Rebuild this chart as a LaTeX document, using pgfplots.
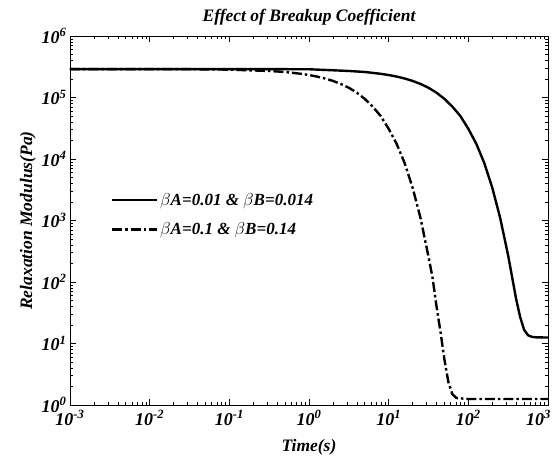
\documentclass[border=0pt]{standalone}
\usepackage{pgfplots}
\pgfplotsset{compat=1.18}
\usepackage{fontspec}
\setmainfont{Liberation Serif}
\begin{document}
\begin{tikzpicture}
\path[use as bounding box] (-70pt,-53pt) rectangle (489pt,405pt);
\begin{axis}[
  at={(0,0)}, anchor=south west,
  scale only axis, width=478pt, height=369pt,
  xmode=log, ymode=log,
  xmin=1e-3, xmax=1e3, ymin=1, ymax=1e6,
  xtick={1e-3,1e-2,1e-1,1,1e1,1e2,1e3},
  xticklabels={10\textsuperscript{-3},10\textsuperscript{-2},10\textsuperscript{-1},10\textsuperscript{0},10\textsuperscript{1},10\textsuperscript{2},\makebox[0pt][r]{10\textsuperscript{3}\hspace*{-3pt}}},
  ytick={1,1e1,1e2,1e3,1e4,1e5,1e6},
  yticklabels={10\textsuperscript{0},10\textsuperscript{1},10\textsuperscript{2},10\textsuperscript{3},10\textsuperscript{4},10\textsuperscript{5},10\textsuperscript{6}},
  ticklabel style={font=\fontsize{18}{18}\selectfont\bfseries\itshape},
  xticklabel style={yshift=-2pt},
  major tick length=6pt, minor tick length=3pt,
  tick style={black, line width=0.6pt},
  axis line style={line width=0.8pt},
  xlabel={Time(s)}, ylabel={Relaxation Modulus(Pa)},
  label style={font=\fontsize{17.5}{17.5}\selectfont\bfseries\itshape},
  xlabel style={yshift=-7pt},
  ylabel style={yshift=-1pt},
  title={Effect of Breakup Coefficient},
  title style={font=\fontsize{17.5}{17.5}\selectfont\bfseries\itshape, yshift=1pt},
  legend style={draw=none, fill=none, inner sep=0pt, at={(0.085,0.58)}, anchor=north west,
    font=\fontsize{17}{17}\selectfont\bfseries\itshape, row sep=12pt},
  legend cell align=left,
  legend image code/.code={\draw[#1] (0pt,0pt) -- (45pt,0pt);},
]
\addplot[black, line width=2.4pt] coordinates {
(1e-3,2.9e5) (0.3,2.89e5) (1,2.88e5) (3.16,2.7e5) (5.0,2.6e5) (7.9,2.43e5) (10,2.32e5)
(12.6,2.19e5) (15.8,2.04e5) (20,1.86e5) (25.1,1.66e5) (31.6,1.44e5) (39.8,1.2e5)
(50.1,9.5e4) (63.1,7.1e4) (79.4,5.0e4) (100,3.1e4) (126,1.76e4) (158,8.7e3)
(200,3.4e3) (251,1.1e3) (316,270) (355,119) (398,53) (447,27) (501,16.7)
(562,13.6) (631,12.8) (708,12.6) (1000,12.5)
};
\addlegendentry{$\beta$A=0.01 \& $\beta$B=0.014}
\addplot[black, line width=2.4pt, dash pattern=on 10pt off 3pt on 2.5pt off 3pt] coordinates {
(1e-3,2.9e5) (0.03,2.89e5) (0.1,2.84e5) (0.316,2.7e5) (0.5,2.6e5) (0.79,2.43e5)
(1,2.32e5) (1.26,2.19e5) (1.58,2.04e5) (2,1.86e5) (2.51,1.66e5) (3.16,1.44e5)
(3.98,1.2e5) (5.01,9.5e4) (6.31,7.1e4) (7.94,5.0e4) (10,3.1e4) (12.6,1.76e4)
(15.8,8.7e3) (20,3.4e3) (25.1,1.1e3) (31.6,258) (35.5,119) (39.8,41) (44.7,15.5)
(50.1,5.5) (56.2,2.35) (63.1,1.5) (70.8,1.3) (100,1.25) (1000,1.25)
};
\addlegendentry{$\beta$A=0.1 \& $\beta$B=0.14}
\end{axis}
\end{tikzpicture}
\end{document}
